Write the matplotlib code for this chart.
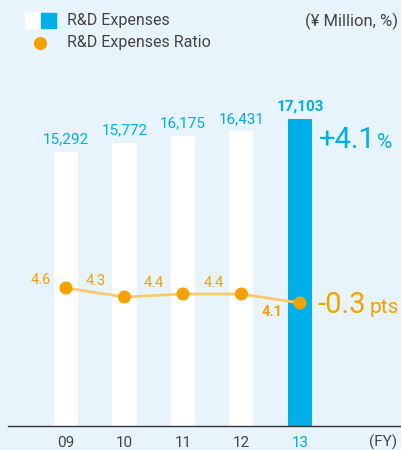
import matplotlib.pyplot as plt
import numpy as np

plt.rcParams['font.family'] = ['Roboto', 'DejaVu Sans']

years = ['09', '10', '11', '12', '13']
expenses = [15292, 15772, 16175, 16431, 17103]
ratio = [4.6, 4.3, 4.4, 4.4, 4.1]
# label offsets (pixels) for the ratio labels
ratio_label_offsets = [(-25, -8), (-29, -16), (-29, -11), (-28, -11), (-28, 9)]

bg = '#e8f4fc'
blue = '#00aee8'
orange = '#f5a200'
line_orange = '#f9c96e'
gray = '#444444'

W, H = 402, 450
fig = plt.figure(figsize=(W / 100, H / 100), dpi=100)
fig.patch.set_facecolor(bg)

ax = fig.add_axes([8 / W, 24 / H, 394 / W, 366 / H])
ax.set_facecolor(bg)
x = np.arange(len(years))
px = 58.5  # pixels per category step
ax.set_xlim((8 - 66) / px, (402 - 66) / px)
ax.set_ylim(0, 366 / 0.01793)

colors = ['white'] * (len(years) - 1) + [blue]
ax.bar(x, expenses, width=24 / px, color=colors, zorder=2)

for i, v in enumerate(expenses):
    last = i == len(years) - 1
    ax.annotate(f'{v:,}', (i, v), xytext=(0, 4), textcoords='offset points',
                ha='center', va='bottom', fontsize=11, color=blue,
                fontweight='bold' if last else 'normal')

for s in ['top', 'right', 'left']:
    ax.spines[s].set_visible(False)
ax.spines['bottom'].set_color('#333333')
ax.spines['bottom'].set_linewidth(1)
ax.set_yticks([])
ax.set_xticks(x)
ax.set_xticklabels(years, fontsize=11, color=gray)
ax.get_xticklabels()[-1].set_color(blue)
ax.tick_params(axis='x', length=0, pad=7)

ax2 = ax.twinx()
ax2.set_ylim(0, 366 / 30)
ax2.axis('off')
ax2.plot(x, ratio, color=line_orange, lw=2, zorder=3)
ax2.scatter(x, ratio, s=88, color=orange, edgecolor='none', zorder=4)
for i, v in enumerate(ratio):
    dx, dy = ratio_label_offsets[i]
    ax2.annotate(f'{v}', (i, v), xytext=(dx * 0.72, -dy * 0.72), textcoords='offset points',
                 ha='center', va='center', fontsize=10.5, color=orange,
                 fontweight='bold' if i == len(ratio) - 1 else 'normal')

# overlay in pixel coordinates for annotations and legend
lax = fig.add_axes([0, 0, 1, 1])
lax.set_xlim(0, W)
lax.set_ylim(H, 0)
lax.axis('off')
lax.patch.set_visible(False)

lax.text(319, 148, '+4.1', fontsize=21, color=blue, va='baseline', ha='left')
lax.text(377, 148, '%', fontsize=15, color=blue, va='baseline', ha='left')
lax.text(318, 313, '-0.3', fontsize=21, color=orange, va='baseline', ha='left')
lax.text(370, 313, 'pts', fontsize=15, color=orange, va='baseline', ha='left')
lax.text(383, 442, '(FY)', fontsize=11, color=gray, va='center', ha='center')

# legend
lax.add_patch(plt.Rectangle((25, 13), 15, 15, color='white'))
lax.add_patch(plt.Rectangle((41, 13), 15, 15, color=blue))
lax.plot([40], [43], 'o', color=orange, markersize=9.5, markeredgewidth=0)
lax.text(67, 21, 'R&D Expenses', fontsize=11.5, color=gray, va='center')
lax.text(67, 42, 'R&D Expenses Ratio', fontsize=11.5, color=gray, va='center')
lax.text(398, 21, '(¥ Million, %)', fontsize=12, color=gray, va='center', ha='right')

fig.savefig('out.png', dpi=100, facecolor=bg)
